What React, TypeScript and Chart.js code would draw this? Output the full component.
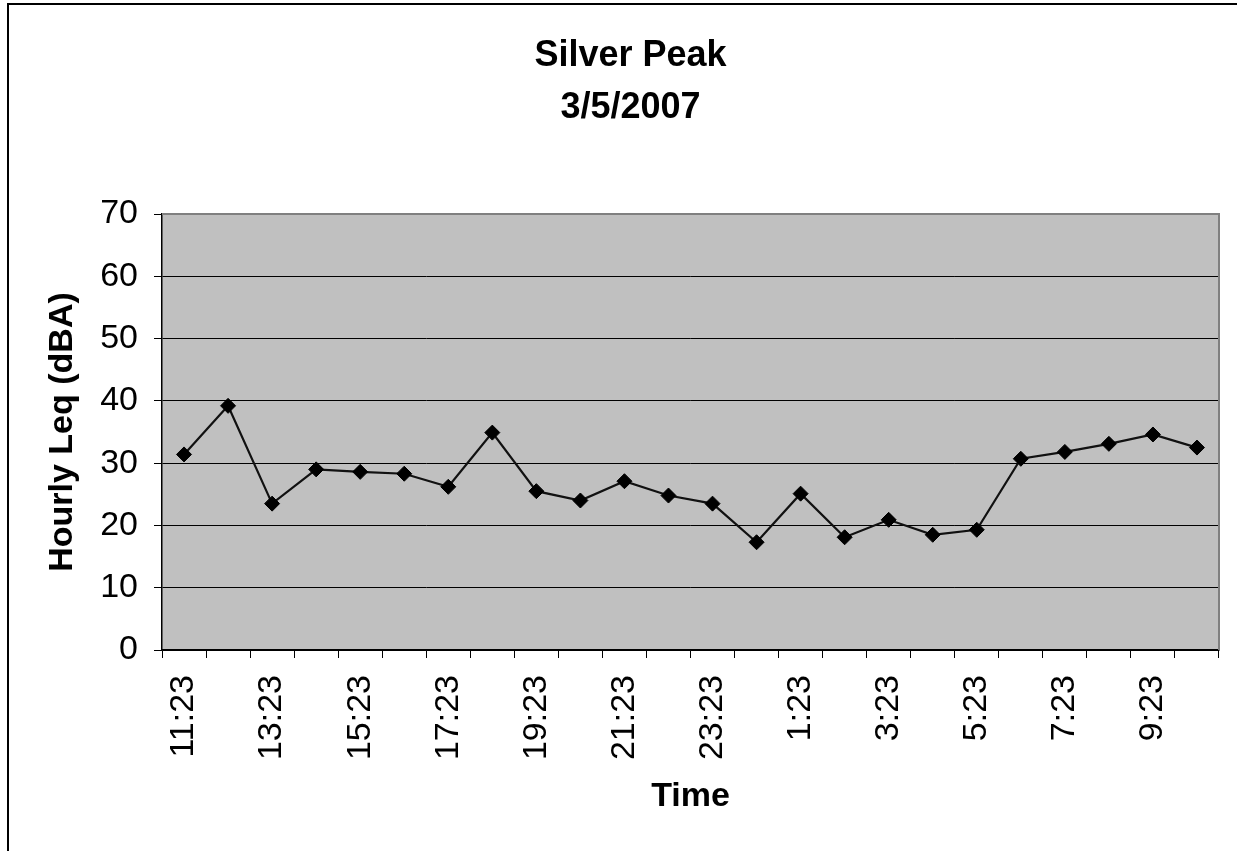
import React, { useEffect, useRef } from 'react';
import { Chart, registerables } from 'chart.js';

Chart.register(...registerables);

const chartTitle = ['Silver Peak', '3/5/2007'];
const yAxisTitle = 'Hourly Leq (dBA)';
const xAxisTitle = 'Time';

const timeLabels = [
  '11:23', '12:23', '13:23', '14:23', '15:23', '16:23', '17:23', '18:23',
  '19:23', '20:23', '21:23', '22:23', '23:23', '0:23', '1:23', '2:23',
  '3:23', '4:23', '5:23', '6:23', '7:23', '8:23', '9:23', '10:23',
];

const hourlyLeq = [
  31.4, 39.2, 23.5, 29.0, 28.6, 28.3, 26.2, 34.9,
  25.5, 24.0, 27.1, 24.8, 23.5, 17.3, 25.1, 18.1,
  20.9, 18.5, 19.3, 30.7, 31.8, 33.1, 34.6, 32.5,
];

const yMin = 0;
const yMax = 70;
const yStep = 10;

const FONT = "'Liberation Sans', Arial, Helvetica, sans-serif";
const W = 1237;
const H = 851;
const PAD_LEFT = 42;
const PLOT_LEFT = 162;
const PLOT_RIGHT = 1219;
const PLOT_BOTTOM = 650;

const plotBackground = {
  id: 'plotBackground',
  beforeDraw(chart: any) {
    const { ctx, chartArea } = chart;
    const { left, top, right, bottom } = chartArea;
    ctx.save();
    ctx.fillStyle = '#C0C0C0';
    ctx.fillRect(left, top, right - left, bottom - top);
    ctx.restore();
  },
  beforeDatasetsDraw(chart: any) {
    const { ctx, chartArea } = chart;
    const { left, top, right, bottom } = chartArea;
    ctx.save();
    ctx.strokeStyle = '#808080';
    ctx.lineWidth = 2;
    ctx.beginPath();
    ctx.moveTo(left, top);
    ctx.lineTo(right, top);
    ctx.lineTo(right, bottom);
    ctx.stroke();
    ctx.restore();
  },
};

export default function App() {
  const canvasRef = useRef<HTMLCanvasElement | null>(null);

  useEffect(() => {
    if (!canvasRef.current) return;
    const chart = new Chart(canvasRef.current, {
      type: 'line',
      data: {
        labels: timeLabels,
        datasets: [
          {
            label: 'Hourly Leq',
            data: hourlyLeq,
            borderColor: '#111',
            borderWidth: 2.2,
            backgroundColor: '#000',
            pointStyle: 'rectRot',
            pointRadius: 7.5,
            pointBackgroundColor: '#000',
            pointBorderColor: '#000',
            pointBorderWidth: 1,
            tension: 0,
            fill: false,
          },
        ],
      },
      options: {
        responsive: false,
        animation: false,
        events: [],
        layout: { padding: { top: 0, left: PAD_LEFT, right: W - PLOT_RIGHT, bottom: 0 } },
        plugins: {
          legend: { display: false },
          tooltip: { enabled: false },
          title: {
            display: true,
            text: chartTitle,
            color: '#000',
            font: { family: FONT, size: 36, weight: 'bold', lineHeight: 52 / 36 },
            padding: { top: 30, bottom: 80 },
          },
        },
        scales: {
          x: {
            type: 'category',
            offset: true,
            grid: {
              offset: true,
              drawOnChartArea: false,
              drawTicks: true,
              tickLength: 8,
              color: '#000',
              lineWidth: 1,
            },
            border: { display: true, color: '#000', width: 1.5 },
            ticks: {
              autoSkip: false,
              maxRotation: 90,
              minRotation: 90,
              padding: 17,
              color: '#000',
              font: { family: FONT, size: 34 },
              callback: (_v: any, i: number) => (i % 2 === 0 ? timeLabels[i] : ''),
            },
            title: {
              display: true,
              text: xAxisTitle,
              color: '#000',
              font: { family: FONT, size: 34, weight: 'bold' },
              padding: { top: 0, bottom: 34 },
            },
            afterFit: (s: any) => {
              s.height = H - PLOT_BOTTOM;
              s.paddingLeft = 0;
              s.paddingRight = 0;
            },
          },
          y: {
            min: yMin,
            max: yMax,
            ticks: {
              stepSize: yStep,
              padding: 16,
              color: '#000',
              font: { family: FONT, size: 34 },
            },
            grid: {
              color: (c: any) => (c.tick && c.tick.value === yMax ? '#808080' : '#000'),
              tickColor: '#000',
              tickLength: 8,
              lineWidth: 1,
            },
            border: { display: true, color: '#000', width: 1.5 },
            title: {
              display: true,
              text: yAxisTitle,
              color: '#000',
              font: { family: FONT, size: 34, weight: 'bold' },
              padding: { top: 0, bottom: 0 },
            },
            afterFit: (s: any) => {
              s.width = PLOT_LEFT - PAD_LEFT;
              s.paddingTop = 0;
              s.paddingBottom = 0;
            },
          },
        },
      },
      plugins: [plotBackground],
    });
    return () => chart.destroy();
  }, []);

  return (
    <div style={{ position: 'fixed', left: 0, top: 0, width: W, height: H, overflow: 'hidden', background: '#fff' }}>
      <div
        style={{
          position: 'absolute',
          left: 7,
          top: 3,
          width: W + 40,
          height: H + 40,
          borderLeft: '2px solid #000',
          borderTop: '2px solid #000',
        }}
      />
      <canvas ref={canvasRef} width={W} height={H} style={{ position: 'absolute', left: 0, top: 0, width: W, height: H }} />
    </div>
  );
}
